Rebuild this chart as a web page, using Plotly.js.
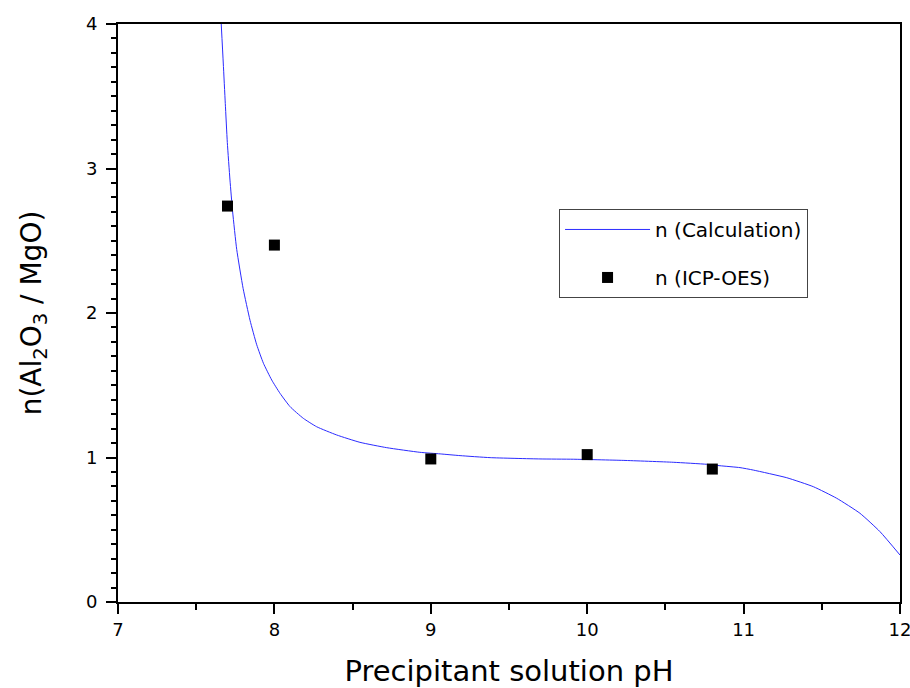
<!DOCTYPE html>
<html>
<head>
<meta charset="utf-8">
<script src="https://cdn.plot.ly/plotly-3.0.1.min.js"></script>
<style>html,body{margin:0;padding:0;background:#fff;}#chart{width:910px;height:688px;}</style>
</head>
<body>
<div id="chart"></div>
<script>
// Calculated curve
var calcPH = [7.66, 7.673, 7.686, 7.699, 7.716, 7.733, 7.759, 7.80, 7.844, 7.887, 7.93, 7.983, 8.036, 8.10, 8.185, 8.27, 8.398, 8.547, 8.718, 8.93, 9.06, 9.187, 9.379, 9.698, 9.911, 10.23, 10.55, 10.764, 10.849, 10.977, 11.062, 11.276, 11.446, 11.595, 11.744, 11.872, 12.0];
var calcN  = [4.0, 3.73, 3.45, 3.18, 2.92, 2.70, 2.44, 2.17, 1.95, 1.78, 1.652, 1.536, 1.444, 1.352, 1.271, 1.213, 1.156, 1.105, 1.068, 1.036, 1.025, 1.013, 0.999, 0.990, 0.988, 0.980, 0.967, 0.953, 0.943, 0.930, 0.913, 0.860, 0.798, 0.718, 0.614, 0.487, 0.325];
// ICP-OES measurements
var icpPH = [7.7, 8.0, 9.0, 10.0, 10.8];
var icpN  = [2.74, 2.47, 0.99, 1.02, 0.92];

var FONT = "DejaVu Sans, Verdana, sans-serif";

var traces = [
  {x: calcPH, y: calcN, type: 'scatter', mode: 'lines', name: 'n (Calculation)',
   line: {color: '#2b2bff', width: 1, shape: 'spline', smoothing: 0.5}, legendgroup: 'a', cliponaxis: true},
  {x: icpPH, y: icpN, type: 'scatter', mode: 'markers', name: 'n (ICP-OES)',
   marker: {symbol: 'square', size: 11, color: '#000', line: {color: '#000', width: 0}}, legendgroup: 'b'}
];

var layout = {
  width: 910, height: 688,
  margin: {l: 118, r: 10, t: 24, b: 86},
  paper_bgcolor: '#fff', plot_bgcolor: '#fff',
  font: {family: FONT, color: '#000', size: 18},
  showlegend: true,
  legend: {x: 0.564, y: 0.68, xanchor: 'left', yanchor: 'top',
    bordercolor: '#444', borderwidth: 1, bgcolor: '#fff',
    font: {family: FONT, size: 20, color: '#000'},
    itemwidth: 85, tracegroupgap: 19, traceorder: 'grouped'},
  xaxis: {
    range: [7, 12], dtick: 1, tick0: 7,
    showgrid: false, zeroline: false,
    showline: true, linecolor: '#000', linewidth: 2, mirror: true,
    ticks: 'outside', ticklen: 10, tickwidth: 2, tickcolor: '#000',
    ticklabeloverflow: 'allow',
    tickfont: {family: FONT, size: 18},
    minor: {dtick: 0.5, ticks: 'outside', ticklen: 6, tickwidth: 2, tickcolor: '#000', showgrid: false},
    title: {text: 'Precipitant solution pH', font: {family: FONT, size: 29}, standoff: 27}
  },
  yaxis: {
    range: [0, 4], dtick: 1, tick0: 0,
    showgrid: false, zeroline: false,
    showline: true, linecolor: '#000', linewidth: 2, mirror: true,
    ticks: 'outside', ticklen: 10, tickwidth: 2, tickcolor: '#000',
    ticklabelstandoff: 5,
    tickfont: {family: FONT, size: 18},
    minor: {dtick: 0.1, ticks: 'outside', ticklen: 5, tickwidth: 2, tickcolor: '#000', showgrid: false},
    title: {text: 'n(Al<sub>2</sub>O<sub>3</sub> / MgO)', font: {family: FONT, size: 28}, standoff: 36}
  }
};

Plotly.newPlot('chart', traces, layout, {displayModeBar: false, staticPlot: true});
</script>
</body>
</html>
